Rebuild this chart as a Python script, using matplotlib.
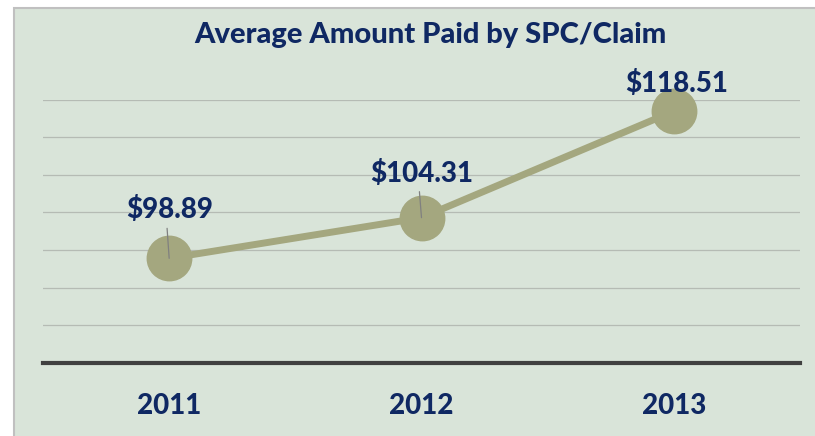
import matplotlib.pyplot as plt
from matplotlib.patches import Rectangle

years = ["2011", "2012", "2013"]
avg_paid = [98.89, 104.31, 118.51]
labels = ["$98.89", "$104.31", "$118.51"]

navy = "#0f2863"
olive = "#a4a77f"
bg = "#d9e4d9"

plt.rcParams["font.family"] = ["Lato", "DejaVu Sans"]
weight = 900

W, H = 815, 436
fig = plt.figure(figsize=(W / 100, H / 100), dpi=100)
fig.patch.set_facecolor("white")

# chart frame (left/top border only visible, rest runs off the image)
fig.patches.append(Rectangle((13.5 / W, -0.5), 2, (H - 8) / H + 0.5,
                             transform=fig.transFigure, facecolor=bg,
                             edgecolor="#c0c0c0", linewidth=1.5, zorder=-5))

ax = fig.add_axes([43 / W, 1 - 362.5 / H, 757 / W, 262.5 / H])
ax.set_facecolor("none")

x = list(range(len(years)))
ax.plot(x, avg_paid, color=olive, linewidth=5, marker="o", markersize=32,
        markerfacecolor=olive, markeredgecolor=olive, zorder=3, clip_on=False)

ax.set_xlim(-0.5, len(years) - 0.5)
ax.set_ylim(85, 120)
ax.set_yticks(range(85, 121, 5))
ax.yaxis.grid(True, color="#b5bbb4", linewidth=0.9)
ax.set_axisbelow(True)
ax.tick_params(axis="y", left=False, labelleft=False)
ax.tick_params(axis="x", length=0, pad=22, labelsize=20, labelcolor=navy)
ax.set_xticks(x)
ax.set_xticklabels(years, fontweight=weight)
for s in ["top", "right", "left"]:
    ax.spines[s].set_visible(False)
ax.spines["bottom"].set_color("#404040")
ax.spines["bottom"].set_linewidth(3)
ax.spines["bottom"].set_zorder(4)

# data labels with leader lines (offsets in pixels above the point)
offsets = [(0, 40), (0, 36), (3, 19)]
leaders = [True, True, False]
for xi, yi, lab, (dx, dy), lead in zip(x, avg_paid, labels, offsets, leaders):
    ax.annotate(lab, (xi, yi), xytext=(dx * 0.72, dy * 0.72),
                textcoords="offset points", ha="center", va="baseline",
                fontsize=20, fontweight=weight, color=navy, zorder=5,
                annotation_clip=False)
    if lead:
        ax.annotate("", (xi, yi), xytext=(-1.5, (dy - 10) * 0.72),
                    textcoords="offset points",
                    arrowprops=dict(arrowstyle="-", color="#808080", lw=0.9,
                                    shrinkA=0, shrinkB=0), zorder=4)

fig.text(430 / W, 1 - 35 / H, "Average Amount Paid by SPC/Claim",
         ha="center", va="center", fontsize=21, fontweight=weight, color=navy)

fig.savefig("out.png", dpi=100)
